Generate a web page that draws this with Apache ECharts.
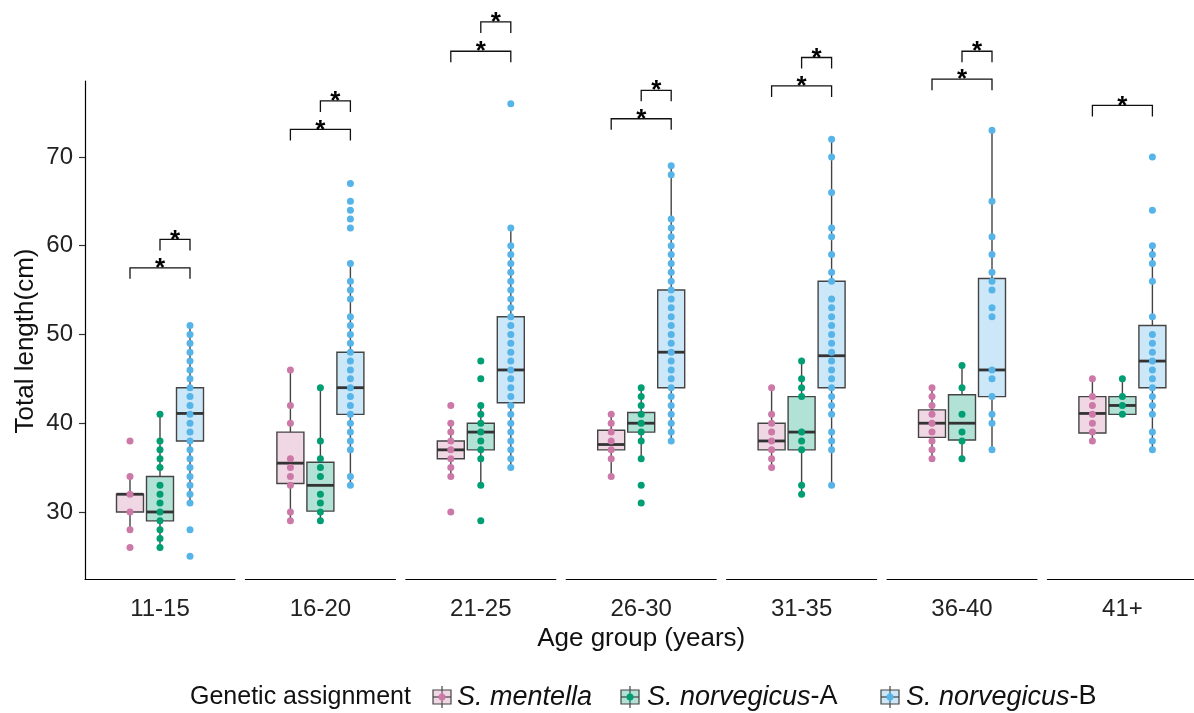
<!DOCTYPE html>
<html>
<head>
<meta charset="utf-8">
<script src="https://cdn.jsdelivr.net/npm/echarts@6/dist/echarts.min.js"></script>
<style>
  html, body { margin: 0; padding: 0; background: #fff; }
  #chart { width: 1194px; height: 713px; }
</style>
</head>
<body>
<div id="chart"></div>
<script>
// age groups (one facet each) and the three genetic groups
const ageGroups = ['11-15', '16-20', '21-25', '26-30', '31-35', '36-40', '41+'];
const speciesNames = ['S. mentella', 'S. norvegicus-A', 'S. norvegicus-B'];
const dotColors = ['#cc79a7', '#009e73', '#56b4e9'];
const yTicks = [30, 40, 50, 60, 70];

// box stats per age group: [lower whisker, Q1, median, Q3, upper whisker]
const mentellaBox = [
  [28, 30, 32, 32, 34],
  [29, 33.2, 35.5, 39, 46],
  [34, 36, 37, 38, 40],
  [34, 37, 37.6, 39.2, 41],
  [35, 37, 38, 40, 44],
  [36, 38.4, 40, 41.5, 44],
  [38, 38.9, 41.1, 43, 45]
];
const normABox = [
  [26, 29, 30, 34, 41],
  [29, 30.1, 33, 35.6, 44],
  [33, 37, 39, 40, 42],
  [36, 39, 40, 41.2, 44],
  [32, 37, 39, 43, 47],
  [36, 38.1, 40, 43.2, 46.5],
  [41, 41, 42, 43, 45]
];
const normBBox = [
  [31, 38, 41.1, 44, 51],
  [33, 41, 44, 48, 58],
  [35, 42.3, 46, 52, 62],
  [38, 44, 48, 55, 69],
  [33, 44, 47.6, 56, 72],
  [37, 43, 46, 56.3, 73],
  [37, 44, 47, 51, 60]
];

// individual fish (total length, cm)
const mentellaDots = [
  [26, 28, 30, 32, 34, 38],
  [29, 30, 33, 34, 35, 36, 40, 42, 46],
  [30, 34, 35, 36, 37, 38, 39, 40, 42],
  [34, 36, 37, 38, 39, 40, 41],
  [35, 36, 37, 38, 39, 40, 41, 44],
  [36, 37, 38, 39, 40, 41, 42, 43, 44],
  [38, 39, 40, 41, 42, 43, 45]
];
const normADots = [
  [26, 27, 28, 29, 30, 31, 32, 33, 35, 36, 37, 38, 41],
  [29, 30, 31, 32, 34, 35, 36, 38, 44],
  [29, 33, 36, 37, 38, 39, 40, 41, 42, 45, 47],
  [31, 33, 36, 38, 39, 40, 41, 42, 43, 44],
  [32, 33, 37, 38, 39, 43, 44, 45, 47],
  [36, 38, 39, 41, 44, 46.5],
  [41, 42, 43, 45]
];
const normBDots = [
  [25, 28, 31, 32, 33, 34, 35, 36, 37, 38, 39, 40, 41, 42, 43, 44, 45, 46, 47, 48, 49, 50, 51],
  [33, 34, 37, 38, 39, 40, 41, 42, 43, 44, 45, 46, 47, 48, 49, 50, 51, 52, 54, 55, 56, 58, 62, 63, 64, 65, 67],
  [35, 36, 37, 38, 39, 40, 41, 42, 43, 44, 45, 46, 47, 48, 49, 50, 51, 52, 53, 54, 55, 56, 57, 58, 59, 60, 62, 76],
  [38, 39, 40, 41, 42, 43, 44, 45, 46, 47, 48, 49, 50, 51, 52, 53, 54, 55, 56, 57, 58, 59, 60, 61, 62, 63, 68, 69],
  [33, 37, 38, 39, 41, 42, 43, 44, 45, 46, 47, 48, 49, 50, 51, 52, 53, 54, 56, 57, 59, 61, 62, 66, 70, 72],
  [37, 40, 41, 43, 45, 46, 52, 53, 55, 56, 57, 59, 61, 65, 73],
  [37, 38, 39, 41, 42, 43, 44, 45, 46, 47, 48, 49, 50, 52, 56, 58, 59, 60, 64, 70]
];

// significance brackets (height in cm): mentella vs B, A vs B
const outerBracket = [57.5, 73.1, 81.9, 74.3, 78.0, 78.75, 75.8];
const innerBracket = [60.7, 76.3, 85.2, 77.5, 81.2, 81.9, null];

const FONT = 'Liberation Sans, Arial, sans-serif';
const fills = ['rgba(204,121,167,0.3)', 'rgba(0,158,115,0.3)', 'rgba(86,180,233,0.3)'];
const boxes = [mentellaBox, normABox, normBBox];
const dots = [mentellaDots, normADots, normBDots];

const chart = echarts.init(document.getElementById('chart'));

const grids = [], xAxes = [], yAxes = [], series = [];

ageGroups.forEach((g, i) => {
  grids.push({ left: 85 + i * 160.4, top: 81, width: 150, height: 498, outerBoundsMode: 'none' });
  // visible facet axis
  xAxes.push({
    gridIndex: i, type: 'category', data: [g], position: 'bottom',
    axisLine: { lineStyle: { color: '#000', width: 1.2 } },
    axisTick: { alignWithLabel: true, length: 6, lineStyle: { color: '#333', width: 1.2 } },
    axisLabel: { fontSize: 24, color: '#222', margin: 18, fontFamily: FONT },
    splitLine: { show: false },
    name: i === 3 ? 'Age group (years)' : '',
    nameLocation: 'middle', nameGap: 40,
    nameTextStyle: { fontSize: 26, color: '#111', fontFamily: FONT }
  });
  // hidden slot axis for the three boxes
  xAxes.push({
    gridIndex: i, type: 'category', data: ['p0', 'm', 'A', 'B', 'p4'],
    position: 'top', show: false
  });
  yAxes.push({
    gridIndex: i, type: 'value', min: 22.45, max: 78.55, show: i === 0,
    axisLine: { show: true, lineStyle: { color: '#000', width: 1.2 } },
    axisTick: { show: true, length: 6, customValues: yTicks, lineStyle: { color: '#333', width: 1.2 } },
    axisLabel: { customValues: yTicks, fontSize: 24, color: '#222', margin: 12, fontFamily: FONT },
    splitLine: { show: false }
  });

  // boxes
  series.push({
    type: 'custom', xAxisIndex: 2 * i + 1, yAxisIndex: i,
    encode: { x: 0, y: [1, 2, 3, 4, 5] },
    data: boxes.map((b, k) => [k + 1].concat(b[i], [k])),
    renderItem: function (params, api) {
      const x = api.value(0);
      const k = api.value(6);
      const lo = api.coord([x, api.value(1)]);
      const q1 = api.coord([x, api.value(2)]);
      const md = api.coord([x, api.value(3)]);
      const q3 = api.coord([x, api.value(4)]);
      const hi = api.coord([x, api.value(5)]);
      const hw = 13.5;
      const line = { stroke: '#444', lineWidth: 1.4 };
      return {
        type: 'group',
        children: [
          { type: 'line', shape: { x1: lo[0], y1: lo[1], x2: q1[0], y2: q1[1] }, style: line },
          { type: 'line', shape: { x1: q3[0], y1: q3[1], x2: hi[0], y2: hi[1] }, style: line },
          { type: 'rect', shape: { x: q3[0] - hw, y: q3[1], width: hw * 2, height: q1[1] - q3[1] },
            style: { fill: fills[k], stroke: '#444', lineWidth: 1.4 } },
          { type: 'line', shape: { x1: md[0] - hw, y1: md[1], x2: md[0] + hw, y2: md[1] },
            style: { stroke: '#333', lineWidth: 2.8 } }
        ]
      };
    }
  });

  // dots
  dots.forEach((d, k) => {
    series.push({
      type: 'scatter', name: speciesNames[k], xAxisIndex: 2 * i + 1, yAxisIndex: i,
      symbolSize: 7, itemStyle: { color: dotColors[k], opacity: 1 },
      data: d[i].map(v => [k + 1, v])
    });
  });

  // brackets
  const br = [[1, 3, outerBracket[i]]];
  if (innerBracket[i] != null) br.push([2, 3, innerBracket[i]]);
  series.push({
    type: 'custom', xAxisIndex: 2 * i + 1, yAxisIndex: i, clip: false,
    encode: { x: [0, 1], y: 2 },
    data: br,
    renderItem: function (params, api) {
      const a = api.coord([api.value(0), api.value(2)]);
      const b = api.coord([api.value(1), api.value(2)]);
      return {
        type: 'group',
        children: [
          { type: 'polyline',
            shape: { points: [[a[0], a[1] + 11], [a[0], a[1]], [b[0], b[1]], [b[0], b[1] + 11]] },
            style: { stroke: '#111', lineWidth: 1.3, fill: null } },
          { type: 'text', x: (a[0] + b[0]) / 2, y: a[1] + 1,
            style: { text: '*', fontSize: 26, fontWeight: 'bold', fill: '#000',
              align: 'center', verticalAlign: 'middle', fontFamily: FONT } }
        ]
      };
    }
  });
});

// y axis title and legend drawn as graphic (box + dot key)
const legendY = 697;
const keyX = [442, 630, 890];
const labelX = [457, 647, 906];
const labelText = ['{i|S. mentella}', '{i|S. norvegicus}-A', '{i|S. norvegicus}-B'];
const otherEls = [{
  type: 'text', x: 26, y: 341, rotation: Math.PI / 2,
  style: { text: 'Total length(cm)', fontSize: 26, fill: '#111', fontFamily: FONT,
    align: 'center', verticalAlign: 'middle' }
}, {
  type: 'text', x: 190, y: legendY,
  style: { text: 'Genetic assignment', fontSize: 25, fill: '#111', fontFamily: FONT,
    align: 'left', verticalAlign: 'middle' }
}];
keyX.forEach((x, k) => {
  otherEls.push({ type: 'line', shape: { x1: x, y1: legendY - 11, x2: x, y2: legendY + 11 },
    style: { stroke: '#444', lineWidth: 1.2 } });
  otherEls.push({ type: 'rect', shape: { x: x - 9, y: legendY - 7, width: 18, height: 14 },
    style: { fill: fills[k], stroke: '#444', lineWidth: 1.2 } });
  otherEls.push({ type: 'line', shape: { x1: x - 9, y1: legendY, x2: x + 9, y2: legendY },
    style: { stroke: '#444', lineWidth: 1.2 } });
  otherEls.push({ type: 'circle', shape: { cx: x, cy: legendY, r: 3.5 },
    style: { fill: dotColors[k] } });
  otherEls.push({ type: 'text', x: labelX[k], y: legendY,
    style: { text: labelText[k], fontSize: 27, fill: '#111', fontFamily: FONT,
      align: 'left', verticalAlign: 'middle',
      rich: { i: { fontStyle: 'italic', fontSize: 27, fontFamily: FONT, fill: '#111' } } } });
});

chart.setOption({
  animation: false,
  backgroundColor: '#fff',
  grid: grids,
  xAxis: xAxes,
  yAxis: yAxes,
  series: series,
  graphic: { elements: otherEls }
});
</script>
</body>
</html>
